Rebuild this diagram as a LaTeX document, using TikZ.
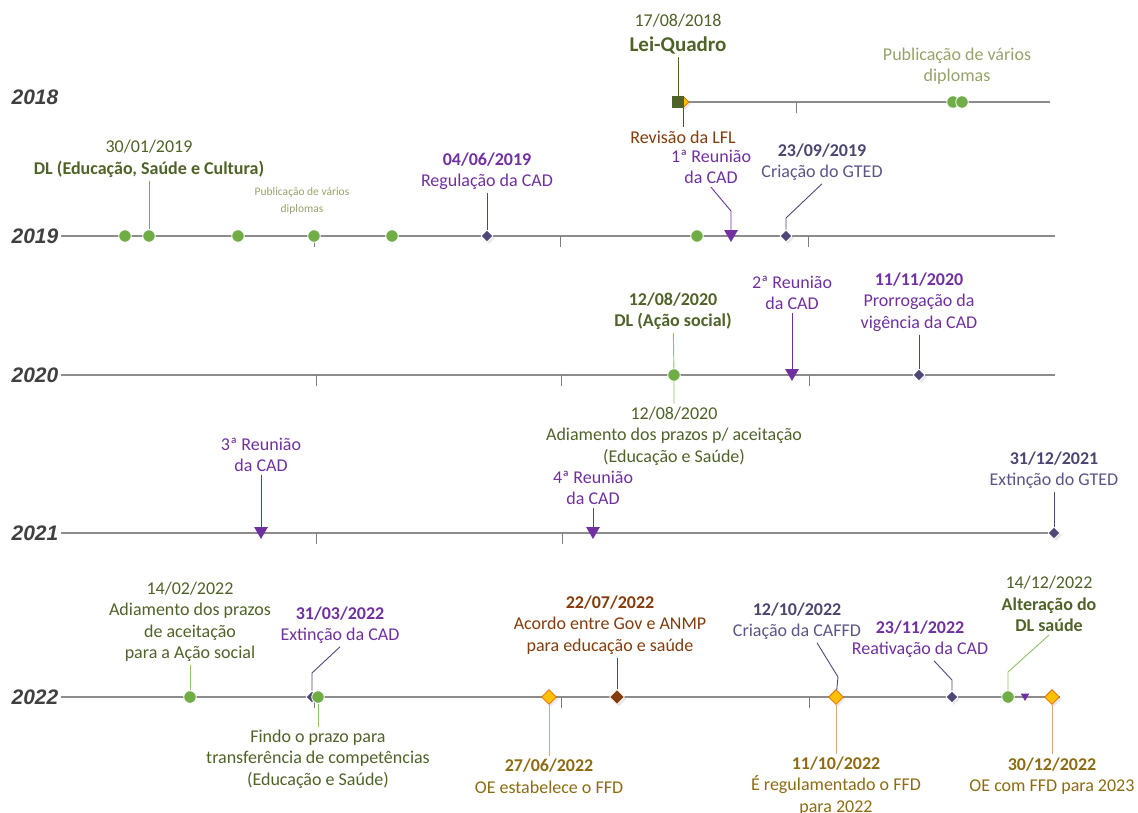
\documentclass[tikz,border=0pt]{standalone}
\usepackage{fontspec}
\setmainfont{Carlito}
\newfontfamily\yearfont{Liberation Sans}
\usepackage{xcolor}
\usetikzlibrary{shapes.geometric,calc,shadows}

\definecolor{olivetxt}{HTML}{4F6228}
\definecolor{dotgreen}{HTML}{70AD47}
\definecolor{greenlt}{HTML}{8DC268}
\definecolor{pubtxt}{HTML}{95A269}
\definecolor{purp}{HTML}{7030A0}
\definecolor{slate}{HTML}{4E4878}
\definecolor{slatetxt}{HTML}{5A5488}
\definecolor{slatedk}{HTML}{4A4670}
\definecolor{browntxt}{HTML}{843C0C}
\definecolor{goldtxt}{HTML}{8C6B12}
\definecolor{goldfill}{HTML}{FFC000}
\definecolor{golddraw}{HTML}{E36C09}
\definecolor{salmon}{HTML}{DCA283}
\definecolor{axisgray}{HTML}{8C8C8C}
\definecolor{yeargray}{HTML}{404040}

\tikzset{
  axis/.style={draw=axisgray, line width=1.3pt},
  tickmark/.style={draw=axisgray!90!black, line width=0.9pt},
  yearlbl/.style={font=\yearfont\bfseries\itshape\fontsize{21}{21}\selectfont, text=yeargray, inner sep=2pt},
  txt/.style={align=center, font=\fontsize{18}{21.5}\selectfont, inner sep=3pt},
  cn/.style={line width=0.9pt},
  dot/.style={circle, fill=dotgreen, draw=white, line width=0.8pt, minimum size=12.5pt, inner sep=0pt},
  sq/.style={rectangle, fill=olivetxt, minimum size=12pt, inner sep=0pt},
  shd/.style={drop shadow={shadow xshift=2pt, shadow yshift=-2pt, opacity=0.18, fill=gray}},
  sdiam/.style={diamond, fill=slate, draw=white, line width=0.6pt, minimum size=12pt, inner sep=0pt, shd},
  bdiam/.style={diamond, fill=browntxt, draw=white, line width=0.6pt, minimum size=15pt, inner sep=0pt, shd},
  gdiam/.style={diamond, fill=goldfill, draw=golddraw, line width=0.8pt, minimum size=15pt, inner sep=0pt, shd},
  tri/.style={regular polygon, regular polygon sides=3, shape border rotate=180, fill=purp, minimum size=16pt, inner sep=0pt},
}

\begin{document}
\begin{tikzpicture}[x=1pt,y=-1pt]
\useasboundingbox (0,0) rectangle (1138,812);

% year axes
\node[yearlbl] (y2018) at (35,97) {2018};
\coordinate (s2018) at (680,102);
\coordinate (e2018) at (1050,102);
\draw[axis] (s2018) -- (e2018);
\foreach \yr/\yy/\xe in {2019/236/1055, 2020/375/1055, 2021/533/1055, 2022/697/1060} {
  \node[yearlbl] (y\yr) at (35,\yy) {\yr};
  \coordinate (e\yr) at (\xe,\yy);
  \draw[axis] (y\yr.east) -- (e\yr);
}
\foreach \x/\y in {796/102, 314/236, 560/236, 808/236, 316/375, 561/375, 809/375,
                   316/533, 562/533, 314/697, 561/697, 809/697}
  \draw[tickmark] (\x,\y) -- (\x,\y+11);

% 2018
\node[gdiam, minimum size=12pt] (d18) at (683,102) {};
\node[sq] (q18) at (678,102) {};
\node[dot] (g18a) at (953,102) {};
\node[dot] (g18b) at (962,102) {};
\node[txt, text=olivetxt] (t18a) at (678,34) {17/08/2018\\[3pt]{\bfseries\fontsize{21}{24}\selectfont Lei-Quadro}};
\draw[cn, draw=olivetxt] (t18a) -- (q18);
\node[txt, text=browntxt] (t18b) at (683,137) {Revisão da LFL};
\draw[cn, draw=browntxt] (d18) -- (t18b);
\node[txt, text=pubtxt] (p18) at (957,66) {Publicação de vários\\diplomas};

% 2019
\foreach \x [count=\i] in {125,149,238,314,392,697}
  \node[dot] (g19-\i) at (\x,236) {};
\node[txt, text=olivetxt] (t19a) at (149,159) {30/01/2019\\\textbf{DL (Educação, Saúde e Cultura)}};
\draw[cn, draw=dotgreen] (t19a) -- (g19-2);
\node[txt, text=pubtxt, font=\fontsize{11.5}{17}\selectfont] (p19) at (302,201) {Publicação de vários\\diplomas};
\node[sdiam] (d19a) at (487,236) {};
\node[txt, text=purp] (t19b) at (487,171) {\textbf{04/06/2019}\\Regulação da CAD};
\draw[cn, draw=slate] (t19b) -- (d19a);
\node[tri] (r19) at (731,234) {};
\node[txt, text=purp] (t19c) at (711,167) {1ª Reunião\\da CAD};
\coordinate (k19c) at (731,211);
\draw[cn, draw=purp] (t19c.south) -- (k19c) -- (r19);
\node[sdiam] (d19b) at (786,236) {};
\node[txt, text=slatetxt] (t19d) at (822,162) {\textbf{\color{slatedk}23/09/2019}\\Criação do GTED};
\coordinate (k19d) at (786,218);
\draw[cn, draw=slate] (t19d.south) -- (k19d) -- (d19b);

% 2020
\node[dot] (g20) at (674,375) {};
\node[txt, text=olivetxt] (t20a) at (673,311) {\textbf{12/08/2020}\\\textbf{DL (Ação social)}};
\node[txt, text=olivetxt] (t20b) at (674,436) {12/08/2020\\Adiamento dos prazos p/ aceitação\\(Educação e Saúde)};
\draw[cn, draw=greenlt] (t20a) -- (g20) -- (t20b);
\node[tri] (r20) at (792,373) {};
\node[txt, text=purp] (t20c) at (792,293) {2ª Reunião\\da CAD};
\draw[cn, draw=purp] (t20c) -- (r20);
\node[sdiam] (d20) at (919,375) {};
\node[txt, text=purp] (t20d) at (919,302) {\textbf{11/11/2020}\\Prorrogação da\\vigência da CAD};
\draw[cn, draw=slate] (t20d) -- (d20);

% 2021
\node[tri] (r21a) at (261,531) {};
\node[txt, text=purp] (t21a) at (261,455) {3ª Reunião\\da CAD};
\draw[cn, draw=purp] (t21a) -- (r21a);
\node[tri] (r21b) at (593,531) {};
\node[txt, text=purp] (t21b) at (593,488) {4ª Reunião\\da CAD};
\draw[cn, draw=purp] (t21b) -- (r21b);
\node[sdiam] (d21) at (1054,533) {};
\node[txt, text=slatetxt] (t21c) at (1054,470) {\textbf{\color{slatedk}31/12/2021}\\Extinção do GTED};
\draw[cn, draw=slate] (t21c) -- (d21);

% 2022
\node[dot] (g22a) at (190,697) {};
\node[txt, text=olivetxt] (t22a) at (190,622) {14/02/2022\\Adiamento dos prazos\\de aceitação\\para a Ação social};
\draw[cn, draw=greenlt] (t22a) -- (g22a);
\node[sdiam] (d22a) at (312,697) {};
\node[dot] (g22b) at (318,697) {};
\node[txt, text=purp] (t22b) at (340,625) {\textbf{31/03/2022}\\Extinção da CAD};
\coordinate (k22b) at (312,673);
\draw[cn, draw=slate] (t22b.south) -- (k22b) -- (d22a);
\node[txt, text=olivetxt] (t22c) at (318,759) {Findo o prazo para\\transferência de competências\\(Educação e Saúde)};
\draw[cn, draw=greenlt] (g22b) -- (t22c);
\node[gdiam] (o22a) at (549,697) {};
\node[txt, text=goldtxt] (t22d) at (549,776) {\textbf{27/06/2022}\\OE estabelece o FFD};
\draw[cn, draw=salmon] (o22a) -- (t22d);
\node[bdiam] (b22) at (617,697) {};
\node[txt, text=browntxt] (t22e) at (610,625) {\textbf{22/07/2022}\\Acordo entre Gov e ANMP\\para educação e saúde};
\draw[cn, draw=browntxt] (t22e.south -| b22) -- (b22);
\node[gdiam] (o22b) at (836,697) {};
\node[txt, text=slatetxt] (t22f) at (797,621) {\textbf{\color{slatedk}12/10/2022}\\Criação da CAFFD};
\coordinate (k22f) at (838,677);
\draw[cn, draw=slate] ($(t22f.south)+(20,0)$) -- (k22f) -- (o22b);
\node[txt, text=goldtxt] (t22g) at (836,786) {\textbf{11/10/2022}\\É regulamentado o FFD\\para 2022};
\draw[cn, draw=salmon] (o22b) -- (t22g);
\node[sdiam] (d22b) at (952,697) {};
\node[txt, text=purp] (t22h) at (920,639) {\textbf{23/11/2022}\\Reativação da CAD};
\coordinate (k22h) at (952,680);
\draw[cn, draw=slate] ($(t22h.south)+(14,0)$) -- (k22h) -- (d22b);
\node[dot] (g22c) at (1008,697) {};
\node[txt, text=olivetxt] (t22i) at (1049,604) {14/12/2022\\\textbf{Alteração do}\\\textbf{DL saúde}};
\coordinate (k22i) at (1008,672);
\draw[cn, draw=greenlt] (t22i.south) -- (k22i) -- (g22c);
\node[tri, minimum size=10pt] (r22) at (1025,696) {};
\node[gdiam] (o22c) at (1052,697) {};
\node[txt, text=goldtxt] (t22j) at (1052,776) {\textbf{30/12/2022}\\OE com FFD para 2023};
\draw[cn, draw=salmon] (o22c) -- (t22j);
\end{tikzpicture}
\end{document}
